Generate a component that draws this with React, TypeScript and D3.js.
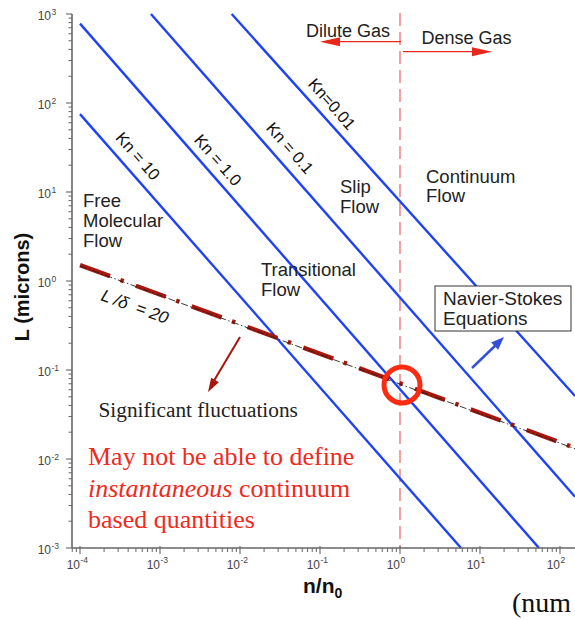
import React from "react";
import * as d3 from "d3";

const W = 575;
const H = 620;

// Knudsen-number lines (n/n0, L in microns)
const knLabels = ["Kn = 10", "Kn = 1.0", "Kn = 0.1", "Kn=0.01"];
const knStartN = [1e-4, 1e-4, 7.7e-4, 7.87e-3];
const knStartL = [75, 780, 1000, 1000];
const knEndN = [5.79, 54.6, 154, 154];
const knEndL = [1e-3, 1e-3, 3.77e-3, 0.051];

// L/delta = 20 line
const deltaN = [1e-4, 154];
const deltaL = [1.51, 0.0133];

// tick decades
const xDecades = [-4, -3, -2, -1, 0, 1, 2];
const yDecades = [-3, -2, -1, 0, 1, 2, 3];

// marked point
const circleN = 1.06;
const circleL = 0.068;

const x = d3.scaleLog().domain([10 ** -4.1, 10 ** 2.5]).range([72, 600]);
const y = d3.scaleLog().domain([1e-3, 1e3]).range([548, 14]);

const lineGen = d3
  .line<[number, number]>()
  .x((d) => x(d[0]))
  .y((d) => y(d[1]));

function arrowHead(x1: number, y1: number, x2: number, y2: number, len: number, hw: number) {
  const a = Math.atan2(y2 - y1, x2 - x1);
  const bx = x2 - len * Math.cos(a);
  const by = y2 - len * Math.sin(a);
  const px = -Math.sin(a) * hw;
  const py = Math.cos(a) * hw;
  return `${x2},${y2} ${bx + px},${by + py} ${bx - px},${by - py}`;
}

export default function App() {
  const axisColor = "#666";
  const tickText = "#444";
  const blue = "#1f42f8";

  // minor ticks
  const xMinor: number[] = [];
  for (let d = -5; d <= 2; d++) {
    for (let k = 2; k <= 9; k++) {
      const v = k * 10 ** d;
      if (x(v) >= 72 && x(v) <= W) xMinor.push(v);
    }
  }
  const yMinor: number[] = [];
  for (let d = -3; d <= 2; d++) {
    for (let k = 2; k <= 9; k++) yMinor.push(k * 10 ** d);
  }

  const knCenters = [
    [138, 156],
    [218, 160],
    [290, 148],
    [332, 104],
  ];

  const sf = { x1: 240, y1: 337, x2: 208, y2: 392 };
  const bl = { x1: 472, y1: 368, x2: 504, y2: 337 };
  const xOne = x(1);

  const deltaPts: [number, number][] = deltaN.map((n, i) => [n, deltaL[i]]);

  return (
    <svg width={W} height={H} style={{ display: "block", position: "absolute", left: 0, top: 0 }} fontFamily="Arial, 'Liberation Sans', sans-serif">
      <rect x={0} y={0} width={W} height={H} fill="white" />

      {/* vertical dashed line at n/n0 = 1 */}
      <line x1={xOne} x2={xOne} y1={13} y2={548} stroke="#e25a55" strokeWidth={1.1} strokeDasharray="13 6" />

      {/* Kn lines */}
      {knLabels.map((lab, i) => (
        <path
          key={lab}
          d={lineGen([
            [knStartN[i], knStartL[i]],
            [knEndN[i], knEndL[i]],
          ]) || ""}
          stroke={blue}
          strokeWidth={2.4}
          fill="none"
        />
      ))}

      {/* L/delta = 20 line */}
      <path d={lineGen(deltaPts) || ""} stroke="#a8170d" strokeWidth={4.4} fill="none" strokeDasharray="32 11 3.5 13" />
      <path d={lineGen(deltaPts) || ""} stroke="#222" strokeWidth={0.9} fill="none" strokeDasharray="7 2.5 1.5 2.5" transform="translate(0,0.8)" />

      {/* red circle */}
      <circle cx={x(circleN)} cy={y(circleL)} r={18} fill="none" stroke="#ff2a12" strokeWidth={5} />

      {/* Axes */}
      <line x1={72} x2={72} y1={14} y2={548} stroke={axisColor} strokeWidth={1.6} />
      <line x1={72} x2={W} y1={548} y2={548} stroke={axisColor} strokeWidth={1.6} />
      {xDecades.map((d) => (
        <line key={"xM" + d} x1={x(10 ** d)} x2={x(10 ** d)} y1={546} y2={554} stroke={axisColor} strokeWidth={1.1} />
      ))}
      {xMinor.map((v, i) => (
        <line key={"xm" + i} x1={x(v)} x2={x(v)} y1={548} y2={552} stroke={axisColor} strokeWidth={1} />
      ))}
      {yDecades.map((d) => (
        <line key={"yM" + d} x1={66} x2={72} y1={y(10 ** d)} y2={y(10 ** d)} stroke={axisColor} strokeWidth={1.1} />
      ))}
      {yMinor.map((v, i) => (
        <line key={"ym" + i} x1={68.5} x2={72} y1={y(v)} y2={y(v)} stroke={axisColor} strokeWidth={1} />
      ))}

      {/* tick labels */}
      {xDecades.map((d) => (
        <g key={"xl" + d} fill={tickText}>
          <text x={x(10 ** d)} y={568.5} fontSize={12} textAnchor="end">10</text>
          <text x={x(10 ** d) + 0.5} y={563} fontSize={8.5}>{d}</text>
        </g>
      ))}
      {yDecades.map((d) => (
        <g key={"yl" + d} fill={tickText}>
          <text x={51} y={y(10 ** d) + 6} fontSize={12} textAnchor="end">10</text>
          <text x={51.5} y={y(10 ** d) + 0.5} fontSize={8.5}>{d}</text>
        </g>
      ))}

      {/* axis titles */}
      <text transform="translate(29,287) rotate(-90)" textAnchor="middle" fontWeight="bold" fontSize={20} fill="#111">
        L (microns)
      </text>
      <text x={303} y={593} fontWeight="bold" fontSize={21} fill="#111">
        n/n<tspan fontSize={14} dy={5}>0</tspan>
      </text>

      {/* Kn labels */}
      {knLabels.map((lab, i) => (
        <text
          key={"kl" + i}
          transform={`translate(${knCenters[i][0]},${knCenters[i][1]}) rotate(48.7)`}
          textAnchor="middle"
          dy="0.35em"
          fontSize={16.5}
          fill="#111"
        >
          {lab}
        </text>
      ))}

      {/* L/delta label */}
      <text transform="translate(100,300) rotate(20)" fontSize={17} fontStyle="italic" fill="#111">
        <tspan>L</tspan>
        <tspan dx={4}>/δ</tspan>
        <tspan dx={9}>= 20</tspan>
      </text>

      {/* region labels */}
      <g fontSize={18.5} fill="#222">
        <text x={83} y={206.5}>Free</text>
        <text x={83} y={226.5}>Molecular</text>
        <text x={83} y={246.5}>Flow</text>
        <text x={261} y={276}>Transitional</text>
        <text x={261} y={296}>Flow</text>
        <text x={340} y={193}>Slip</text>
        <text x={340} y={213}>Flow</text>
        <text x={426} y={182.5}>Continuum</text>
        <text x={426} y={202}>Flow</text>
      </g>

      {/* Dilute / Dense gas arrows */}
      <line x1={xOne + 1} x2={330} y1={41.7} y2={41.7} stroke="#e8281c" strokeWidth={1.3} />
      <polygon points={arrowHead(xOne, 41.7, 320, 41.7, 20, 4.5)} fill="#e8281c" />
      <line x1={xOne + 3} x2={482} y1={51.7} y2={51.7} stroke="#e8281c" strokeWidth={1.3} />
      <polygon points={arrowHead(xOne, 51.7, 492, 51.7, 20, 4.5)} fill="#e8281c" />
      <text x={306} y={37} fontSize={18} fill="#222">Dilute Gas</text>
      <text x={421.5} y={44} fontSize={18} fill="#222">Dense Gas</text>

      {/* Navier-Stokes box */}
      <rect x={435} y={286} width={136} height={45} fill="white" stroke="#333" strokeWidth={1} />
      <text x={443} y={305} fontSize={19} fill="#222">Navier-Stokes</text>
      <text x={443} y={324.5} fontSize={19} fill="#222">Equations</text>
      <line x1={bl.x1} y1={bl.y1} x2={bl.x2 - 6} y2={bl.y2 + 6} stroke="#3450d8" strokeWidth={2.5} />
      <polygon points={arrowHead(bl.x1, bl.y1, bl.x2, bl.y2, 13, 5)} fill="#3450d8" />

      {/* Significant fluctuations arrow */}
      <line x1={sf.x1} y1={sf.y1} x2={sf.x2 + 4} y2={sf.y2 - 8} stroke="#a8140c" strokeWidth={2} />
      <polygon points={arrowHead(sf.x1, sf.y1, sf.x2, sf.y2, 14, 4.5)} fill="#a8140c" />
      <text x={98.5} y={416.5} fontSize={21.3} fontFamily="'Liberation Serif', 'Times New Roman', serif" fill="#222">
        Significant fluctuations
      </text>

      {/* red text */}
      <g fontSize={26} fontFamily="'Liberation Serif', 'Times New Roman', serif" fill="#f2291b">
        <text x={88} y={465}>May not be able to define</text>
        <text x={88} y={496.5}>
          <tspan fontStyle="italic">instantaneous</tspan> continuum
        </text>
        <text x={88} y={528}>based quantities</text>
      </g>

      <text x={512} y={612} fontSize={28} fontFamily="'Liberation Serif', 'Times New Roman', serif" fill="#111">
        (num
      </text>
    </svg>
  );
}
